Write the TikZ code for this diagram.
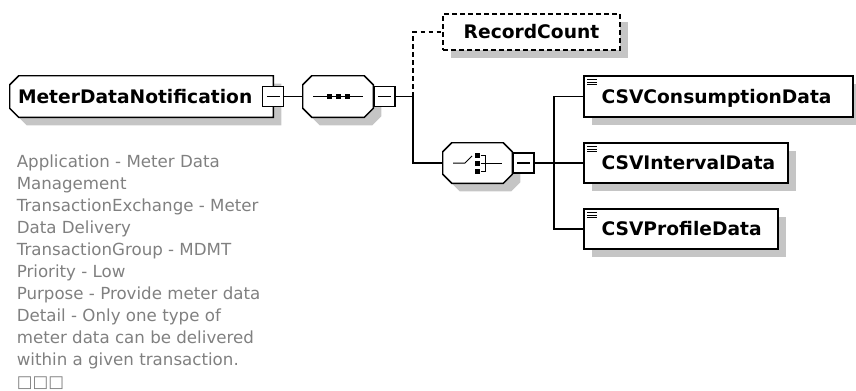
\documentclass[tikz,border=0pt]{standalone}
\usepackage{fontspec}
\newfontfamily\dvs{DejaVu Sans}
\usetikzlibrary{shadows,calc}
\definecolor{shadowc}{RGB}{197,197,197}
\definecolor{desctext}{RGB}{128,128,128}
\tikzset{
  lw/.style={line width=1.1pt},
  shad/.style={drop shadow={shadow xshift=6pt,shadow yshift=-6pt,fill=shadowc,opacity=1}},
  elbox/.style={rectangle, draw, lw, fill=white, shad, inner sep=0pt},
  slot/.style={rectangle, draw=none, inner sep=0pt},
  minusbox/.style={rectangle, draw, line width=1pt, fill=white, inner sep=0pt,
    minimum width=15.75pt, minimum height=15pt,
    path picture={\draw[line width=0.8pt] ([xshift=3pt]path picture bounding box.west) -- ([xshift=-3pt]path picture bounding box.east);}},
  conn/.style={lw},
  dconn/.style={lw, dash pattern=on 3.4pt off 2.6pt},
  lbl/.style={font=\dvs\bfseries\fontsize{14pt}{16pt}\selectfont, inner sep=0pt, anchor=base west},
  icon/.style={line width=0.75pt},
  desc/.style={font=\dvs\fontsize{12.5pt}{16.5pt}\selectfont, text=desctext, inner sep=0pt, anchor=north west, align=left}
}
% #1 node name, #2 left chamfer, #3 right chamfer (px)
\newcommand{\xsdoct}[3]{%
  \fill[shadowc] ($(#1.north west)+(#2+8,8)$) -- ($(#1.north east)+(-#3+8,8)$) -- ($(#1.north east)+(8,#3+8)$)
    -- ($(#1.south east)+(8,-#3+8)$) -- ($(#1.south east)+(-#3+8,8)$) -- ($(#1.south west)+(#2+8,8)$)
    -- ($(#1.south west)+(8,-#2+8)$) -- ($(#1.north west)+(8,#2+8)$) -- cycle;
  \draw[lw, fill=white] ($(#1.north west)+(#2,0)$) -- ($(#1.north east)+(-#3,0)$) -- ($(#1.north east)+(0,#3)$)
    -- ($(#1.south east)+(0,-#3)$) -- ($(#1.south east)+(-#3,0)$) -- ($(#1.south west)+(#2,0)$)
    -- ($(#1.south west)+(0,-#2)$) -- ($(#1.north west)+(0,#2)$) -- cycle;}
\begin{document}
\begin{tikzpicture}[x=0.75pt,y=-0.75pt]
\useasboundingbox (0,0) rectangle (856,390);

% global element
\node[slot, minimum width=197.25pt, minimum height=30.75pt] (mdn) at (141.5,96.5) {};
\xsdoct{mdn}{9}{0}
\node[lbl] (mdnlbl) at ([xshift=6pt,yshift=-5.1pt]mdn.west) {MeterDataNotification};
\node[minusbox] (mdnm) at (mdn.east) {};

% sequence compositor
\node[slot, minimum width=52.5pt, minimum height=30.75pt] (seq) at (338,96.5) {};
\xsdoct{seq}{9}{9}
\draw[icon] ($(seq.center)+(-25,0)$) -- ($(seq.center)+(25,0)$);
\foreach \dx in {-9,0,9}{\fill ($(seq.center)+(\dx,0)$) +(-2.5,-2.5) rectangle +(2.5,2.5);}
\node[minusbox, anchor=west] (seqm) at (seq.east) {};

\coordinate (j1) at (413,96.5);

% optional RecordCount
\node[elbox, dash pattern=on 3.4pt off 2.6pt, minimum width=132.75pt, minimum height=27pt,
      font=\dvs\bfseries\fontsize{14pt}{16pt}\selectfont, text height=10.2pt, text depth=0pt] (rc) at (531.5,32) {RecordCount};

% choice compositor
\node[slot, minimum width=51.75pt, minimum height=30pt] (ch) at (477.5,163) {};
\xsdoct{ch}{9}{9}
\draw[icon] ($(ch.center)+(-24.5,0)$) -- ($(ch.center)+(-12.5,0)$) -- ($(ch.center)+(-5.5,-7)$);
\foreach \dy in {-8,0,8}{\fill ($(ch.center)+(0,\dy)$) +(-2.5,-2.5) rectangle +(2.5,2.5);}
\draw[icon] ($(ch.center)+(3,-8)$) -- ($(ch.center)+(7.5,-8)$) -- ($(ch.center)+(7.5,8)$) -- ($(ch.center)+(3,8)$);
\draw[icon] ($(ch.center)+(3,0)$) -- ($(ch.center)+(24.5,0)$);
\node[minusbox, anchor=west] (chm) at (ch.east) {};

\coordinate (j2) at (554,163);

% child elements
\node[elbox, minimum width=201.75pt, minimum height=30.75pt] (e1) at (718.5,96.5) {};
\node[elbox, minimum width=153pt, minimum height=30pt] (e2) at (686,163) {};
\node[elbox, minimum width=145.5pt, minimum height=30pt] (e3) at (681,229) {};
\foreach \e/\t in {e1/CSVConsumptionData,e2/CSVIntervalData,e3/CSVProfileData}{
  \node[lbl] (\e lbl) at ([xshift=13.5pt,yshift=-5.1pt]\e.west) {\t};
  \foreach \k in {4.7,7,9.3}{\draw[icon] ([xshift=3pt,yshift=-\k*0.75pt]\e.north west) -- ++(10,0);}
}

% connectors
\draw[conn] (mdnm.east) -- (seq.west);
\draw[conn] (seqm.east) -- (j1);
\draw[conn] (j1) |- (ch.west);
\draw[dconn] (j1) |- (rc.west);
\draw[conn] (chm.east) -- (j2);
\draw[conn] (j2) |- (e1.west);
\draw[conn] (j2) -- (e2.west);
\draw[conn] (j2) |- (e3.west);

% annotation
\node[desc] (note) at (16.5,154.3) {Application - Meter Data\\Management\\TransactionExchange - Meter\\Data Delivery\\TransactionGroup - MDMT\\Priority - Low\\Purpose - Provide meter data\\Detail - Only one type of\\meter data can be delivered\\within a given transaction.\\□□□};
\end{tikzpicture}
\end{document}
